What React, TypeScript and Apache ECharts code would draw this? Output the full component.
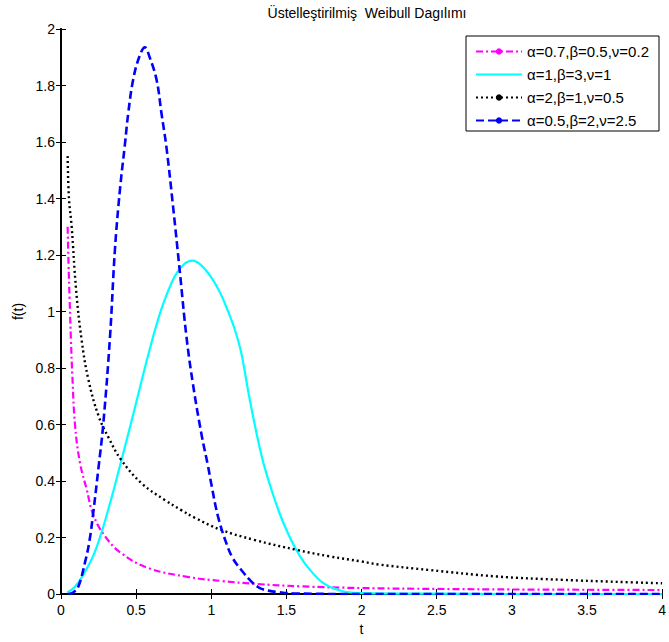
import React, { useEffect, useRef } from "react";
import * as echarts from "echarts";

const chartTitle = "Üstelleştirilmiş  Weibull Dagılımı";
const xName = "t";
const yName = "f(t)";
const seriesNames = ["α=0.7,β=0.5,ν=0.2", "α=1,β=3,ν=1", "α=2,β=1,ν=0.5", "α=0.5,β=2,ν=2.5"];

// [t, f(t)]
const magentaCurve = [
  [0.044, 1.3], [0.05, 1.17], [0.057, 1.05], [0.066, 0.9], [0.075, 0.78], [0.093, 0.6],
  [0.126, 0.465], [0.171, 0.37], [0.215, 0.28], [0.292, 0.205], [0.4, 0.145], [0.58, 0.092],
  [0.85, 0.06], [1.07, 0.046], [1.29, 0.036], [1.6, 0.027], [2.0, 0.021], [2.5, 0.018],
  [3.0, 0.016], [3.5, 0.015], [4.0, 0.014],
];
const cyanCurve = [
  [0.04, 0.005], [0.093, 0.026], [0.15, 0.07], [0.226, 0.15], [0.315, 0.3], [0.403, 0.475],
  [0.492, 0.66], [0.58, 0.845], [0.669, 1.01], [0.757, 1.125], [0.82, 1.168], [0.875, 1.18],
  [0.93, 1.165], [1.001, 1.12], [1.06, 1.065], [1.112, 1.0], [1.16, 0.93], [1.2, 0.852],
  [1.245, 0.72], [1.289, 0.6], [1.344, 0.47], [1.4, 0.37], [1.455, 0.285], [1.51, 0.215],
  [1.566, 0.156], [1.62, 0.11], [1.677, 0.073], [1.73, 0.045], [1.787, 0.026], [1.85, 0.014],
  [1.9, 0.007], [2.0, 0.003], [2.5, 0.001], [3.0, 0.0], [4.0, 0.0],
];
const blackCurve = [
  [0.044, 1.55], [0.053, 1.4], [0.071, 1.3], [0.1, 1.08], [0.137, 0.9], [0.182, 0.76],
  [0.25, 0.63], [0.32, 0.55], [0.4, 0.475], [0.54, 0.39], [0.69, 0.333], [0.8, 0.297],
  [0.89, 0.27], [1.06, 0.228], [1.29, 0.191], [1.57, 0.156], [1.79, 0.133], [2.0, 0.115],
  [2.12, 0.104], [2.45, 0.085], [2.9, 0.062], [3.34, 0.05], [3.7, 0.043], [4.0, 0.038],
];
const blueCurve = [
  [0.05, 0.0], [0.08, 0.005], [0.115, 0.026], [0.159, 0.11], [0.19, 0.19], [0.215, 0.29],
  [0.248, 0.44], [0.281, 0.6], [0.326, 0.91], [0.359, 1.22], [0.392, 1.43], [0.425, 1.59],
  [0.447, 1.7], [0.48, 1.82], [0.52, 1.9], [0.558, 1.935], [0.59, 1.9], [0.636, 1.82],
  [0.669, 1.7], [0.702, 1.58], [0.746, 1.37], [0.791, 1.14], [0.835, 0.91], [0.879, 0.74],
  [0.935, 0.565], [0.979, 0.451], [1.0, 0.39], [1.045, 0.274], [1.1, 0.18], [1.145, 0.125],
  [1.2, 0.085], [1.267, 0.044], [1.32, 0.022], [1.38, 0.012], [1.455, 0.006], [1.55, 0.002],
  [2.0, 0.0], [4.0, 0.0],
];

const FONT = "'Liberation Sans', Arial, sans-serif";

export default function App() {
  const ref = useRef<HTMLDivElement>(null);
  useEffect(() => {
    if (!ref.current) return;
    const chart = echarts.init(ref.current, undefined, { renderer: "svg" });
    const gridL = 61, gridT = 29, gridW = 602, gridH = 565;
    const axisCommon = {
      type: "value" as const,
      axisLine: { show: true, lineStyle: { color: "#000", width: 1.8 } },
      axisTick: { show: true, inside: true, length: 5, lineStyle: { color: "#000", width: 1 } },
      splitLine: { show: false },
      minorTick: { show: false },
    };
    const lineSeries = (name: string, data: number[][], color: string, type: any, width: number, symbol: string) => ({
      name,
      type: "line",
      data,
      xAxisIndex: 0,
      yAxisIndex: 0,
      symbol,
      showSymbol: false,
      symbolSize: 5,
      smooth: 0.4,
      itemStyle: { color },
      lineStyle: { color, type, width },
      emphasis: { disabled: true },
    });
    chart.setOption({
      animation: false,
      textStyle: { fontFamily: FONT },
      title: {
        text: chartTitle,
        left: gridL + gridW / 2,
        textAlign: "center",
        top: 1,
        textStyle: { fontSize: 14, fontWeight: "normal", color: "#000", fontFamily: FONT },
      },
      grid: { left: gridL, top: gridT, width: gridW, height: gridH, containLabel: false },
      xAxis: [
        {
          ...axisCommon,
          position: "bottom",
          min: 0, max: 4, interval: 0.5,
          name: xName,
          nameLocation: "middle",
          nameGap: 26,
          nameTextStyle: { fontSize: 14, color: "#000", fontFamily: FONT },
          axisLabel: { show: true, fontSize: 14, color: "#000", margin: 9, fontFamily: FONT },
        },
        {
          ...axisCommon,
          position: "top",
          min: 0, max: 4, interval: 0.5,
          axisLabel: { show: false },
        },
      ],
      yAxis: [
        {
          ...axisCommon,
          position: "left",
          min: 0, max: 2, interval: 0.2,
          name: yName,
          nameLocation: "middle",
          nameGap: 36,
          nameRotate: 90,
          nameTextStyle: { fontSize: 14, color: "#000", fontFamily: FONT },
          axisLabel: { show: true, fontSize: 14, color: "#000", margin: 6, fontFamily: FONT },
        },
        {
          ...axisCommon,
          position: "right",
          min: 0, max: 2, interval: 0.2,
          axisLabel: { show: false },
        },
      ],
      legend: {
        orient: "vertical",
        left: 466,
        top: 37,
        padding: [7, 6, 6, 9],
        itemWidth: 46,
        itemHeight: 8,
        itemGap: 8,
        textStyle: { fontSize: 15, color: "#000", fontFamily: FONT },
        data: [
          { name: seriesNames[0] },
          { name: seriesNames[1], itemStyle: { color: "rgba(0,0,0,0)", borderWidth: 0 } },
          { name: seriesNames[2] },
          { name: seriesNames[3] },
        ],
        z: 5,
      },
      graphic: [
        {
          type: "rect",
          shape: { x: 466, y: 36, width: 193, height: 95 },
          style: { fill: "#fff", stroke: "#000", lineWidth: 1 },
          z: 4,
        },
      ],
      series: [
        lineSeries(seriesNames[0], magentaCurve, "#ff00ff", [7, 3, 2, 3], 2.2, "circle"),
        lineSeries(seriesNames[1], cyanCurve, "#00ffff", "solid", 2.2, "none"),
        lineSeries(seriesNames[2], blackCurve, "#000000", [2, 3], 2.4, "circle"),
        lineSeries(seriesNames[3], blueCurve, "#0000ff", [8, 4], 2.6, "circle"),
      ],
    });
    return () => chart.dispose();
  }, []);
  return (
    <div
      ref={ref}
      style={{ position: "fixed", left: 0, top: 0, width: 669, height: 642, background: "#fff" }}
    />
  );
}
